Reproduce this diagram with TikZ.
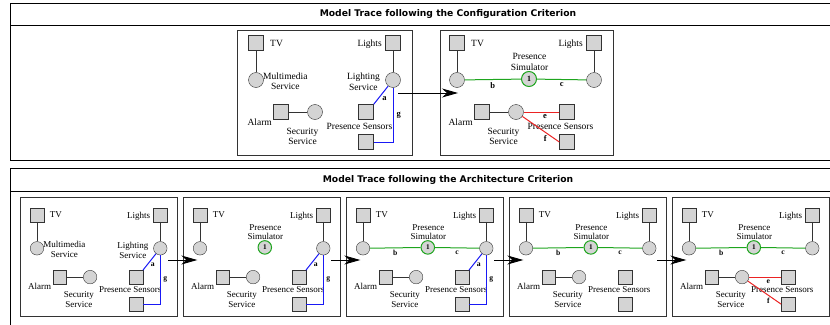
\documentclass[tikz,border=0pt]{standalone}
\usepackage{fontspec}
\setmainfont{Liberation Serif}
\newfontfamily\headfont{DejaVu Sans}
\usetikzlibrary{arrows.meta}
\definecolor{boxgray}{RGB}{212,212,212}
\definecolor{simgreen}{RGB}{30,165,30}
\definecolor{sensblue}{RGB}{25,25,245}
\definecolor{alarmred}{RGB}{235,35,35}

% devices, services and captions shared by every model
\newcommand{\housemodel}{%
\node[dev] (tv) at (19,13) {}; \node[txt, anchor=west] (tvl) at (32,13) {TV};
\node[svc] (mm) at (19,50) {};
\node[dev] (lt) at (156,13) {}; \node[txt, anchor=east] (ltl) at (146,14) {Lights};
\node[svc] (ls) at (156,50) {};
\node[dev] (al) at (44,82) {}; \node[txt, anchor=east] (all) at (36,92) {Alarm};
\node[svc] (sec) at (78,82) {}; \node[txt] (secl) at (65.5,106.5) {Security\\Service};
\node[dev] (ps1) at (129,82) {}; \node[dev] (ps2) at (129,112) {}; \node[txt] (psl) at (122.5,96) {Presence Sensors};
\draw[wire] (tv) -- (mm); \draw[wire] (lt) -- (ls); \draw[wire] (al) -- (sec);}
% captions only shown while no simulator is there
\newcommand{\servicenames}{%
\node[txt, anchor=west] (mml) at (25,51) {Multimedia\\Service};
\node[txt, anchor=east] (lsl) at (144,52) {Lighting\\Service};}
\newcommand{\simulator}{\node[sim] (psim) at (91,49) {1}; \node[txt] (psiml) at (91.5,32) {Presence\\Simulator};}
\newcommand{\sensorlinks}{%
\draw[bluelink] (ls) -- (ps1.north east) node[tag, midway, anchor=north west] {a};
\draw[bluelink] (ls.south) |- (ps2.east) node[tag, pos=.25, right=2pt] {g};}
\newcommand{\simlinks}{%
\draw[greenlink] (mm) -- (psim) node[tag, midway, below=1.5pt] {b};
\draw[greenlink] (psim) -- (ls) node[tag, midway, below=1.5pt] {c};}
\newcommand{\alarmlinks}{%
\draw[redlink] (sec) -- (ps1) node[tag, pos=.6, below=1.5pt] {e};
\draw[redlink] (sec) -- (ps2.west) node[tag, pos=.7, anchor=north east] {f};}

\begin{document}
\begin{tikzpicture}[x=1pt, y=-1pt,
  dev/.style={draw=black!80, fill=boxgray, minimum size=15pt, inner sep=0pt},
  svc/.style={circle, draw=black!80, fill=boxgray, minimum size=15pt, inner sep=0pt},
  sim/.style={svc, draw=simgreen, line width=1pt, font=\fontsize{8}{9}\selectfont\bfseries},
  txt/.style={align=center, inner sep=1pt, font=\fontsize{9.5}{10.5}\selectfont},
  tag/.style={inner sep=1pt, font=\fontsize{8.5}{9}\selectfont\bfseries},
  wire/.style={draw=black!80, line width=1pt},
  bluelink/.style={draw=sensblue, line width=1pt},
  greenlink/.style={draw=simgreen, line width=1pt},
  redlink/.style={draw=alarmred, line width=1pt},
  frame/.style={draw=black!80, line width=.9pt},
  panel/.style={draw=black, line width=.9pt},
  head/.style={font=\headfont\bfseries\fontsize{9.2}{11}\selectfont},
  flow/.style={-{Stealth[length=16pt, width=9pt, inset=5pt]}, line width=.9pt},
  arch/.style={scale=.9, transform shape, txt/.append style={font=\fontsize{10}{11}\selectfont}}]
\useasboundingbox (0,0) rectangle (830,324); \clip (0,0) rectangle (830,324);

% configuration criterion
\draw[panel] (10,3) rectangle (886,160); \draw[panel] (10,25) -- (886,25);
\node[head] (cfg) at (448,14) {Model Trace following the Configuration Criterion};
\begin{scope}[shift={(237,30)}, name prefix=c1-]
\draw[frame] (0,0) rectangle (175,125); \housemodel \servicenames \sensorlinks \coordinate (out) at (161,63);
\end{scope}
\begin{scope}[shift={(438,30)}, name prefix=c2-]
\draw[frame] (2,0) rectangle (175,125); \housemodel \simulator \simlinks \alarmlinks \coordinate (in) at (20,63);
\end{scope}
\draw[flow] (c1-out) -- (c2-in);

% architecture criterion
\draw[panel] (10,168) rectangle (886,340); \draw[panel] (10,191) -- (886,191);
\node[head] (arc) at (448,179.5) {Model Trace following the Architecture Criterion};
\begin{scope}[shift={(19.9,203.3)}, arch, name prefix=a1-]
\draw[frame] (1,-6) rectangle (175,126); \housemodel \servicenames \sensorlinks
\coordinate (out) at (165,63);
\end{scope}
\begin{scope}[shift={(182.9,203.3)}, arch, name prefix=a2-]
\draw[frame] (1,-6) rectangle (175,126); \housemodel \simulator \sensorlinks
\coordinate (in) at (16,63); \coordinate (out) at (165,63);
\end{scope}
\begin{scope}[shift={(345.9,203.3)}, arch, name prefix=a3-]
\draw[frame] (1,-6) rectangle (175,126); \housemodel \simulator \simlinks \sensorlinks
\coordinate (in) at (16,63); \coordinate (out) at (165,63);
\end{scope}
\begin{scope}[shift={(508.9,203.3)}, arch, name prefix=a4-]
\draw[frame] (1,-6) rectangle (175,126); \housemodel \simulator \simlinks
\coordinate (in) at (16,63); \coordinate (out) at (165,63);
\end{scope}
\begin{scope}[shift={(671.9,203.3)}, arch, name prefix=a5-]
\draw[frame] (1,-6) rectangle (175,126); \housemodel \simulator \simlinks \alarmlinks
\coordinate (in) at (16,63);
\end{scope}
\foreach \i/\j in {1/2,2/3,3/4,4/5} \draw[flow] (a\i-out) -- (a\j-in);
\end{tikzpicture}
\end{document}
